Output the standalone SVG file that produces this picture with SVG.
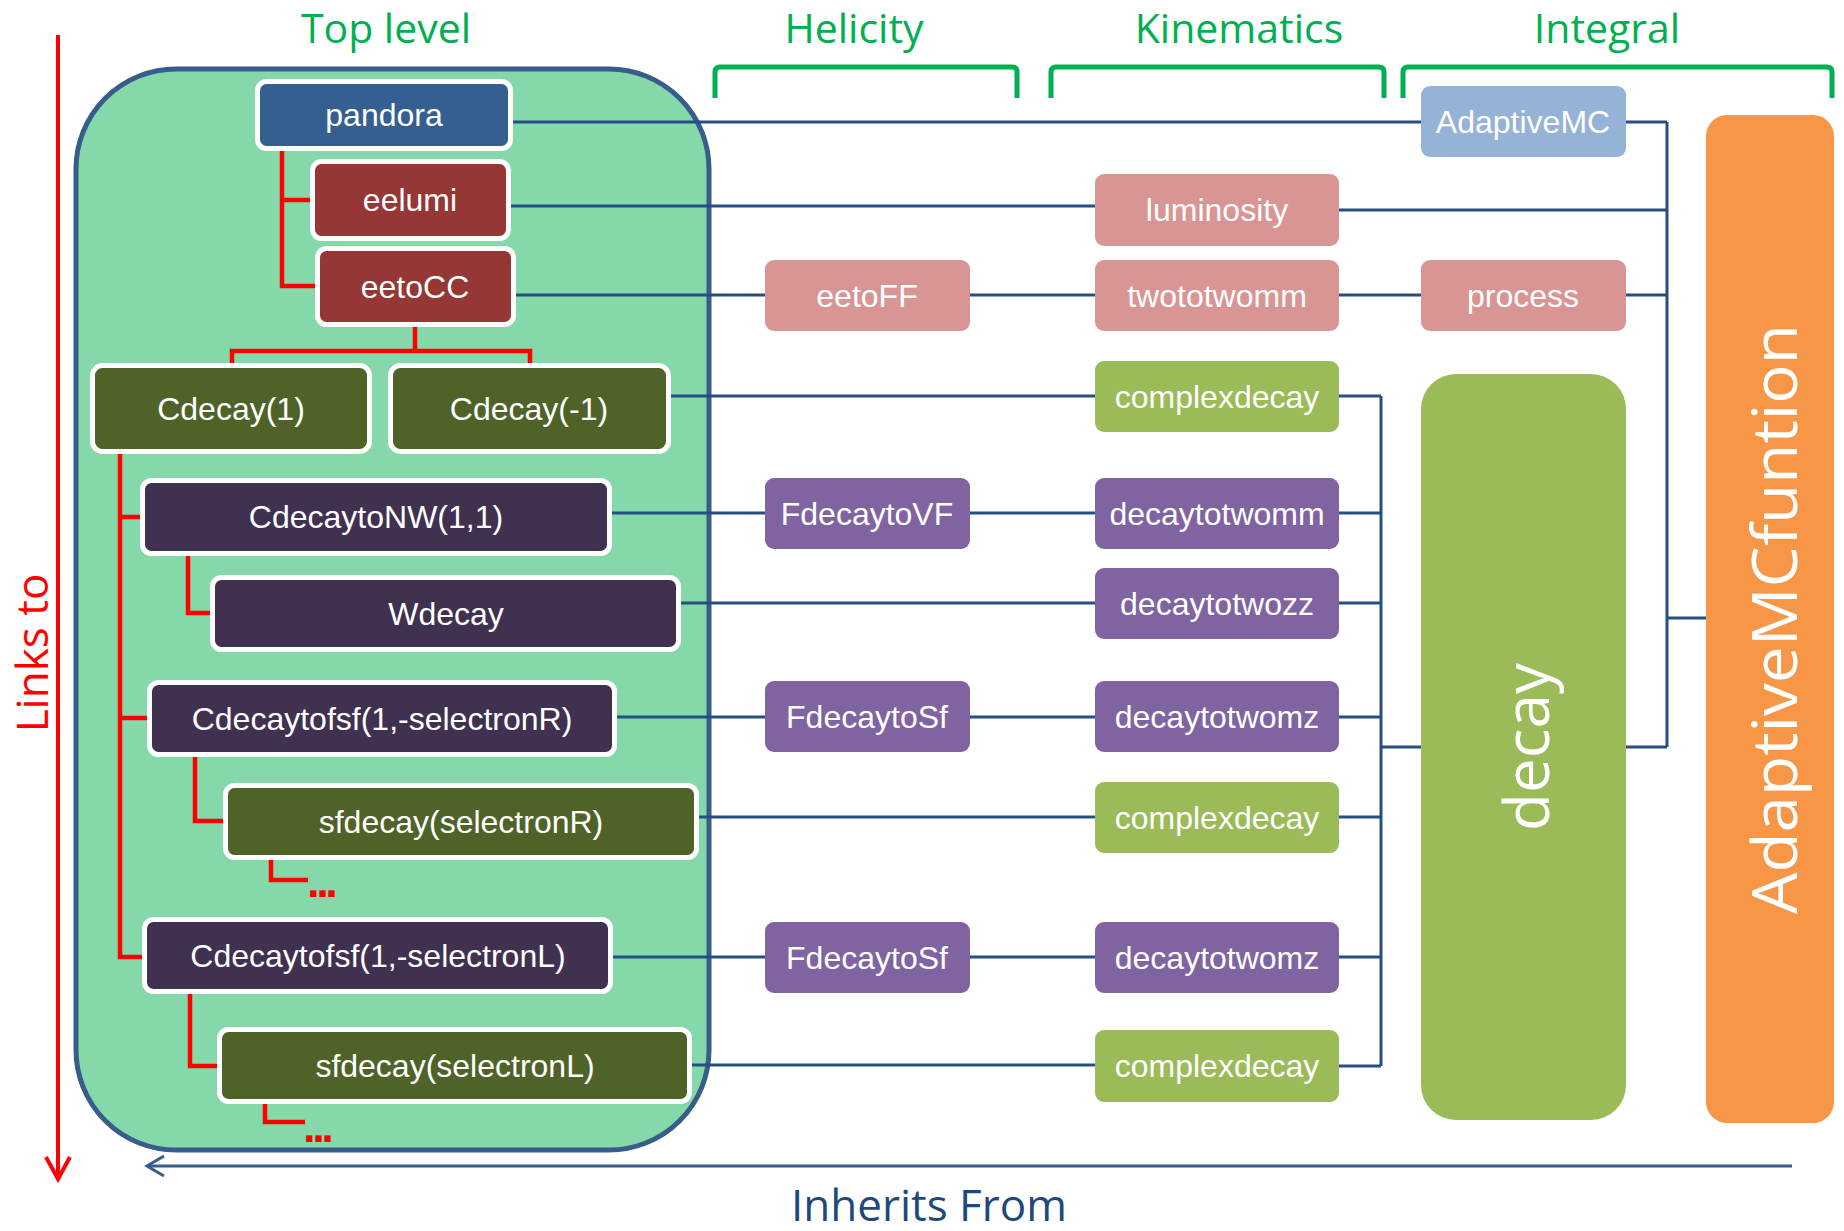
<svg xmlns="http://www.w3.org/2000/svg" width="1844" height="1231" viewBox="0 0 1844 1231">
<defs>
<style>
.hdr{font-family:"Open Sans","Liberation Sans",sans-serif;font-size:41px;fill:#00b050;text-anchor:middle}
.brk{fill:none;stroke:#00b050;stroke-width:5;stroke-linejoin:round}
.ln{fill:none;stroke:#254f82;stroke-width:3}
.red{fill:none;stroke:#ff0000;stroke-width:4.5}
.tn{stroke:#ffffff;stroke-width:5}
.t{font-family:"Liberation Sans",Arial,sans-serif;font-size:32px;fill:#ffffff;text-anchor:middle}
.dots{font-family:"Liberation Sans",Arial,sans-serif;font-size:44px;font-weight:bold;fill:#ff0000;text-anchor:middle;letter-spacing:-3px}
.blue{fill:#365f91}.brown{fill:#953735}.olive{fill:#4f6228}.dpur{fill:#403151}
.pink{fill:#d99594}.lgreen{fill:#9bbb59}.purple{fill:#8064a2}.lblue{fill:#95b3d7}
.big{font-family:"Open Sans","Liberation Sans",sans-serif;font-size:62px;fill:#ffffff;text-anchor:middle}
</style>
</defs>
<rect width="1844" height="1231" fill="#ffffff"/>

<!-- headers and brackets -->
<g id="headers">
<text class="hdr" x="386" y="43">Top level</text>
<text class="hdr" x="854" y="43">Helicity</text>
<text class="hdr" x="1239" y="43">Kinematics</text>
<text class="hdr" x="1607" y="43">Integral</text>
<path class="brk" d="M715,98 V72 Q715,67 720,67 H1012 Q1017,67 1017,72 V98"/>
<path class="brk" d="M1051,98 V72 Q1051,67 1056,67 H1379 Q1384,67 1384,72 V98"/>
<path class="brk" d="M1403,98 V72 Q1403,67 1408,67 H1827 Q1832,67 1832,72 V98"/>
</g>

<!-- top level container -->
<g id="toplevel">
<rect x="76" y="69" width="633" height="1081" rx="100" ry="100" fill="#84d8a9" stroke="#385d8a" stroke-width="5"/>
</g>

<!-- links to / inherits from -->
<g id="axes">
<line x1="58" y1="35" x2="58" y2="1178" stroke="#ff0000" stroke-width="4"/>
<polyline points="46,1157 58,1179 70,1157" fill="none" stroke="#ff0000" stroke-width="4"/>
<text x="48" y="653" transform="rotate(-90 48 653)" font-family="'Open Sans','Liberation Sans',sans-serif" font-size="44" fill="#ff0000" text-anchor="middle">Links to</text>
<line x1="148" y1="1166" x2="1792" y2="1166" stroke="#385d8a" stroke-width="3"/>
<polyline points="164,1156 147,1166 164,1176" fill="none" stroke="#385d8a" stroke-width="3"/>
<text x="929" y="1221" font-family="'Open Sans','Liberation Sans',sans-serif" font-size="44" fill="#1f497d" text-anchor="middle">Inherits From</text>
</g>

<!-- connectors -->
<g id="connectors">
<!-- red tree -->
<polyline class="red" points="282,151 282,286 315,286"/>
<line class="red" x1="282" y1="200" x2="310" y2="200"/>
<polyline class="red" points="232,363 232,351 530,351 530,363"/>
<line class="red" x1="415" y1="327" x2="415" y2="351"/>
<polyline class="red" points="120,454 120,957 142,957"/>
<line class="red" x1="120" y1="517" x2="140" y2="517"/>
<line class="red" x1="120" y1="718" x2="147" y2="718"/>
<polyline class="red" points="188,556 188,613 210,613"/>
<polyline class="red" points="195,757 195,821 223,821"/>
<polyline class="red" points="271,860 271,880 308,880"/>
<polyline class="red" points="190,994 190,1066 217,1066"/>
<polyline class="red" points="265,1104 265,1122 305,1122"/>
<!-- blue links -->
<line class="ln" x1="513" y1="122" x2="1421" y2="122"/>
<line class="ln" x1="511" y1="206" x2="1095" y2="206"/>
<line class="ln" x1="516" y1="295" x2="765" y2="295"/>
<line class="ln" x1="970" y1="295" x2="1095" y2="295"/>
<line class="ln" x1="1339" y1="295" x2="1421" y2="295"/>
<line class="ln" x1="671" y1="396" x2="1095" y2="396"/>
<line class="ln" x1="612" y1="513" x2="765" y2="513"/>
<line class="ln" x1="970" y1="513" x2="1095" y2="513"/>
<line class="ln" x1="681" y1="603" x2="1095" y2="603"/>
<line class="ln" x1="617" y1="717" x2="765" y2="717"/>
<line class="ln" x1="970" y1="717" x2="1095" y2="717"/>
<line class="ln" x1="699" y1="817" x2="1095" y2="817"/>
<line class="ln" x1="613" y1="957" x2="765" y2="957"/>
<line class="ln" x1="970" y1="957" x2="1096" y2="957"/>
<line class="ln" x1="692" y1="1065" x2="1096" y2="1065"/>
<!-- kinematics bus to decay -->
<line class="ln" x1="1381" y1="396" x2="1381" y2="1066"/>
<line class="ln" x1="1339" y1="396" x2="1381" y2="396"/>
<line class="ln" x1="1339" y1="513" x2="1381" y2="513"/>
<line class="ln" x1="1339" y1="603" x2="1381" y2="603"/>
<line class="ln" x1="1339" y1="717" x2="1381" y2="717"/>
<line class="ln" x1="1339" y1="817" x2="1381" y2="817"/>
<line class="ln" x1="1339" y1="957" x2="1381" y2="957"/>
<line class="ln" x1="1339" y1="1066" x2="1381" y2="1066"/>
<line class="ln" x1="1381" y1="747" x2="1421" y2="747" stroke-width="4"/>
<!-- integral bus to AdaptiveMCfuntion -->
<line class="ln" x1="1667" y1="122" x2="1667" y2="747"/>
<line class="ln" x1="1626" y1="122" x2="1667" y2="122"/>
<line class="ln" x1="1339" y1="210" x2="1667" y2="210"/>
<line class="ln" x1="1626" y1="295" x2="1667" y2="295"/>
<line class="ln" x1="1626" y1="747" x2="1667" y2="747"/>
<line class="ln" x1="1667" y1="618" x2="1706" y2="618" stroke-width="4"/>
</g>

<!-- top-level nodes -->
<g id="pandora"><rect class="tn blue" x="257.5" y="81.5" width="253" height="67" rx="9"/><text class="t" x="384" y="126">pandora</text></g>
<g id="eelumi"><rect class="tn brown" x="312.5" y="161.5" width="196" height="77" rx="9"/><text class="t" x="410" y="211">eelumi</text></g>
<g id="eetoCC"><rect class="tn brown" x="317.5" y="248.5" width="196" height="76" rx="9"/><text class="t" x="415" y="298">eetoCC</text></g>
<g id="cdecay1"><rect class="tn olive" x="92.5" y="365.5" width="277" height="86" rx="10"/><text class="t" x="231" y="420">Cdecay(1)</text></g>
<g id="cdecaym1"><rect class="tn olive" x="390.5" y="365.5" width="278" height="86" rx="10"/><text class="t" x="529" y="420">Cdecay(-1)</text></g>
<g id="cdecaytoNW"><rect class="tn dpur" x="142.5" y="480.5" width="467" height="73" rx="9"/><text class="t" x="376" y="528">CdecaytoNW(1,1)</text></g>
<g id="wdecay"><rect class="tn dpur" x="212.5" y="577.5" width="466" height="72" rx="9"/><text class="t" x="446" y="625">Wdecay</text></g>
<g id="cdecaytofsfR"><rect class="tn dpur" x="149.5" y="682.5" width="465" height="72" rx="9"/><text class="t" x="382" y="730">Cdecaytofsf(1,-selectronR)</text></g>
<g id="sfdecayR"><rect class="tn olive" x="225.5" y="785.5" width="471" height="72" rx="9"/><text class="t" x="461" y="833">sfdecay(selectronR)</text></g>
<g id="dotsR"><text class="dots" x="321" y="897">...</text></g>
<g id="cdecaytofsfL"><rect class="tn dpur" x="144.5" y="919.5" width="466" height="72" rx="9"/><text class="t" x="378" y="967">Cdecaytofsf(1,-selectronL)</text></g>
<g id="sfdecayL"><rect class="tn olive" x="219.5" y="1029.5" width="470" height="72" rx="9"/><text class="t" x="455" y="1077">sfdecay(selectronL)</text></g>
<g id="dotsL"><text class="dots" x="317" y="1142">...</text></g>

<!-- helicity -->
<g id="eetoFF"><rect class="pink" x="765" y="260" width="205" height="71" rx="9"/><text class="t" x="867" y="307">eetoFF</text></g>
<g id="fdecaytoVF"><rect class="purple" x="765" y="478" width="205" height="71" rx="9"/><text class="t" x="867" y="525">FdecaytoVF</text></g>
<g id="fdecaytoSf1"><rect class="purple" x="765" y="681" width="205" height="71" rx="9"/><text class="t" x="867" y="728">FdecaytoSf</text></g>
<g id="fdecaytoSf2"><rect class="purple" x="765" y="922" width="205" height="71" rx="9"/><text class="t" x="867" y="969">FdecaytoSf</text></g>

<!-- kinematics -->
<g id="luminosity"><rect class="pink" x="1095" y="174" width="244" height="72" rx="9"/><text class="t" x="1217" y="221">luminosity</text></g>
<g id="twototwomm"><rect class="pink" x="1095" y="260" width="244" height="71" rx="9"/><text class="t" x="1217" y="307">twototwomm</text></g>
<g id="complexdecay1"><rect class="lgreen" x="1095" y="361" width="244" height="71" rx="9"/><text class="t" x="1217" y="408">complexdecay</text></g>
<g id="decaytotwomm"><rect class="purple" x="1095" y="478" width="244" height="71" rx="9"/><text class="t" x="1217" y="525">decaytotwomm</text></g>
<g id="decaytotwozz"><rect class="purple" x="1095" y="568" width="244" height="71" rx="9"/><text class="t" x="1217" y="615">decaytotwozz</text></g>
<g id="decaytotwomz1"><rect class="purple" x="1095" y="681" width="244" height="71" rx="9"/><text class="t" x="1217" y="728">decaytotwomz</text></g>
<g id="complexdecay2"><rect class="lgreen" x="1095" y="782" width="244" height="71" rx="9"/><text class="t" x="1217" y="829">complexdecay</text></g>
<g id="decaytotwomz2"><rect class="purple" x="1095" y="922" width="244" height="71" rx="9"/><text class="t" x="1217" y="969">decaytotwomz</text></g>
<g id="complexdecay3"><rect class="lgreen" x="1095" y="1030" width="244" height="72" rx="9"/><text class="t" x="1217" y="1077">complexdecay</text></g>

<!-- integral -->
<g id="adaptiveMC"><rect class="lblue" x="1421" y="86" width="205" height="71" rx="9"/><text class="t" x="1523" y="133">AdaptiveMC</text></g>
<g id="process"><rect class="pink" x="1421" y="260" width="205" height="71" rx="9"/><text class="t" x="1523" y="307">process</text></g>
<g id="decay"><rect class="lgreen" x="1421" y="374" width="205" height="746" rx="35"/><text class="big" x="1549" y="747" transform="rotate(-90 1549 747)">decay</text></g>
<g id="adaptiveMCfuntion"><rect fill="#f79646" x="1706" y="115" width="128" height="1008" rx="21"/><text class="big" x="1797" y="619" transform="rotate(-90 1797 619)" font-size="66" textLength="590" lengthAdjust="spacingAndGlyphs">AdaptiveMCfuntion</text></g>
</svg>
